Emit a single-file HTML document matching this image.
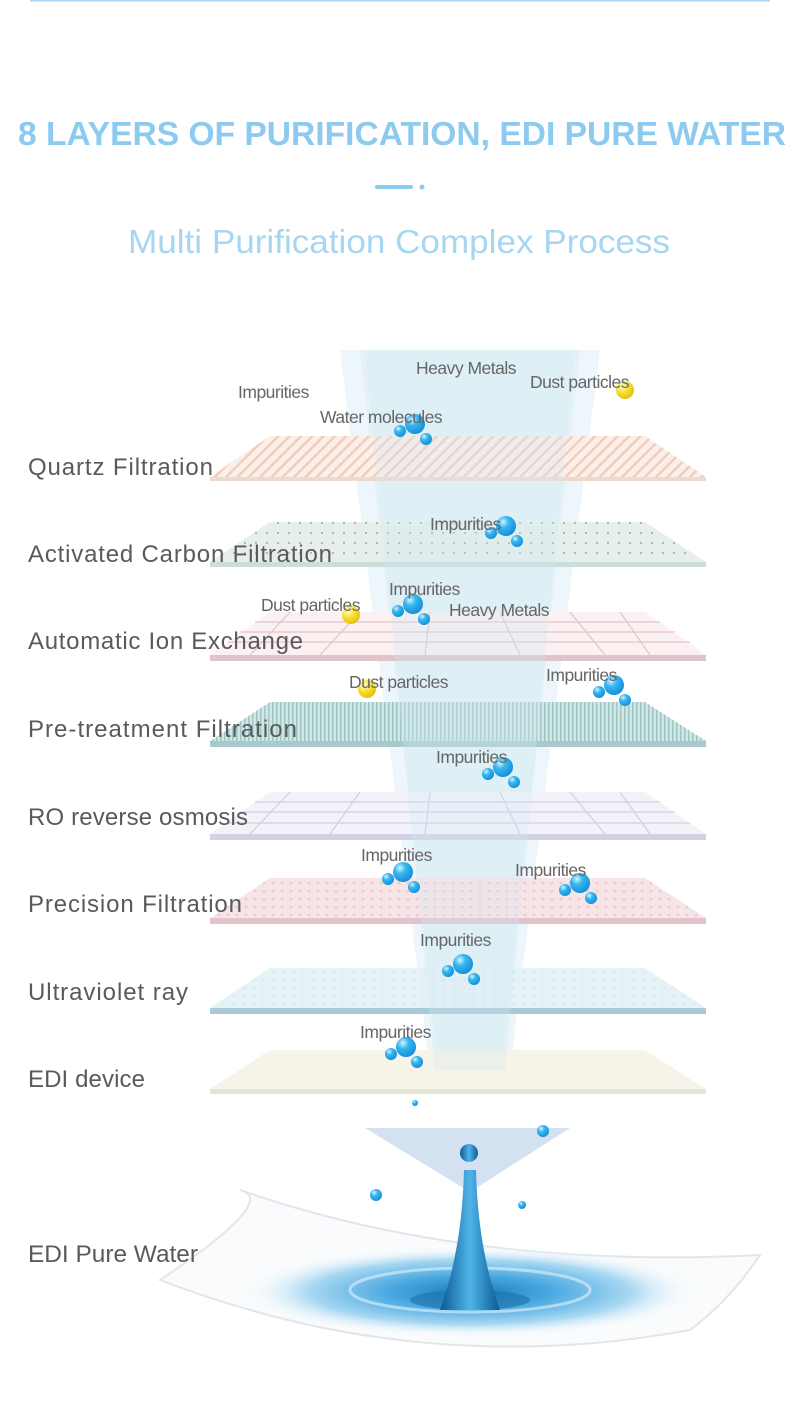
<!DOCTYPE html>
<html><head><meta charset="utf-8"><style>
html,body{margin:0;padding:0;background:#fff}
svg{display:block}
text{font-family:"Liberation Sans",sans-serif}
</style></head><body>
<svg width="800" height="1420" viewBox="0 0 800 1420" xmlns="http://www.w3.org/2000/svg">
<defs>
<pattern id="stripe" width="8" height="8" patternUnits="userSpaceOnUse" patternTransform="rotate(45)"><rect width="8" height="8" fill="#fbefe9"/><rect width="2.5" height="8" fill="#f2cdbd"/></pattern>
<pattern id="dots" width="11" height="10" patternUnits="userSpaceOnUse"><rect width="11" height="10" fill="#e6efed"/><circle cx="3" cy="3" r="1" fill="#8fb290"/></pattern>
<pattern id="fine" width="4" height="4" patternUnits="userSpaceOnUse"><rect width="4" height="4" fill="#d3e6e5"/><rect width="1.5" height="4" fill="#9cc7c4"/></pattern>
<pattern id="pdots" width="9" height="8" patternUnits="userSpaceOnUse"><rect width="9" height="8" fill="#f7e4e6"/><circle cx="3" cy="3" r="1.4" fill="#efc8cf"/></pattern>
<pattern id="uv" width="10" height="8" patternUnits="userSpaceOnUse"><rect width="10" height="8" fill="#e6f3f6"/><circle cx="4" cy="4" r="1.5" fill="#d6ebf0"/></pattern>
<radialGradient id="bub" cx="0.35" cy="0.3" r="0.7"><stop offset="0" stop-color="#d8f4ff"/><stop offset="0.4" stop-color="#35b8f2"/><stop offset="1" stop-color="#1a8fd8"/></radialGradient>
<radialGradient id="yel" cx="0.35" cy="0.3" r="0.7"><stop offset="0" stop-color="#fffbd0"/><stop offset="0.5" stop-color="#f8e030"/><stop offset="1" stop-color="#e8c010"/></radialGradient>
<radialGradient id="pool" cx="0.5" cy="0.5" r="0.5"><stop offset="0" stop-color="#1a78b8"/><stop offset="0.35" stop-color="#4aa8e0"/><stop offset="0.7" stop-color="#a8d8f2"/><stop offset="1" stop-color="#ffffff" stop-opacity="0"/></radialGradient>
<linearGradient id="drop" x1="0" x2="1"><stop offset="0" stop-color="#0b5a94"/><stop offset="0.5" stop-color="#4fb3e8"/><stop offset="1" stop-color="#0b5a94"/></linearGradient>
<g id="b3"><circle cx="0" cy="0" r="10" fill="url(#bub)"/><circle cx="-15" cy="7" r="6" fill="url(#bub)"/><circle cx="11" cy="15" r="6" fill="url(#bub)"/></g>
</defs>
<line x1="30" y1="0.5" x2="770" y2="0.5" stroke="#a9d6f2" stroke-width="2"/>
<text x="18" y="145" textLength="768" lengthAdjust="spacingAndGlyphs" font-size="33" font-weight="bold" fill="#8ccaf0">8 LAYERS OF PURIFICATION, EDI PURE WATER</text>
<rect x="375" y="185" width="38" height="4" rx="2" fill="#8ccaf0"/><circle cx="422" cy="187" r="2.5" fill="#8ccaf0"/>
<text x="128" y="253" textLength="542" lengthAdjust="spacingAndGlyphs" font-size="33" fill="#a6d6f2">Multi Purification Complex Process</text>

<polygon points="340,350 600,350 510,1070 430,1070" fill="#e8f4f9" opacity="0.8"/>
<polygon points="360,350 580,350 500,1080 440,1080" fill="#d8edf6" opacity="0.4"/>

<polygon points="270,436 645,436 706,477 210,477" fill="url(#stripe)"/><rect x="210" y="477" width="496" height="4" fill="#eadad0"/>
<polygon points="270,522 645,522 706,562 210,562" fill="url(#dots)"/><rect x="210" y="562" width="496" height="5" fill="#cbdeda"/>
<polygon points="270,612 645,612 706,655 210,655" fill="#fbf1f2"/>
<g stroke="#e3c4c9" stroke-width="1.2"><line x1="255" y1="622" x2="660" y2="622"/><line x1="240" y1="632" x2="675" y2="632"/><line x1="228" y1="642" x2="690" y2="642"/><line x1="290" y1="612" x2="250" y2="655"/><line x1="360" y1="612" x2="320" y2="655"/><line x1="430" y1="612" x2="425" y2="655"/><line x1="500" y1="612" x2="520" y2="655"/><line x1="570" y1="612" x2="605" y2="655"/><line x1="620" y1="612" x2="650" y2="655"/></g>
<rect x="210" y="655" width="496" height="6" fill="#dfc4ca"/>
<polygon points="270,702 645,702 706,741 210,741" fill="url(#fine)"/><rect x="210" y="741" width="496" height="6" fill="#a9c9cc"/>
<polygon points="270,792 645,792 706,834 210,834" fill="#f3f2f9"/>
<g stroke="#cfcfe6" stroke-width="1.2"><line x1="255" y1="802" x2="660" y2="802"/><line x1="240" y1="812" x2="675" y2="812"/><line x1="228" y1="823" x2="690" y2="823"/><line x1="290" y1="792" x2="250" y2="834"/><line x1="360" y1="792" x2="330" y2="834"/><line x1="430" y1="792" x2="425" y2="834"/><line x1="500" y1="792" x2="520" y2="834"/><line x1="570" y1="792" x2="605" y2="834"/><line x1="620" y1="792" x2="650" y2="834"/></g>
<rect x="210" y="834" width="496" height="6" fill="#d2d2e6"/>
<polygon points="270,878 645,878 706,918 210,918" fill="url(#pdots)"/><rect x="210" y="918" width="496" height="6" fill="#e2c3cc"/>
<polygon points="270,968 645,968 706,1008 210,1008" fill="url(#uv)"/><rect x="210" y="1008" width="496" height="6" fill="#a9cad6"/>
<polygon points="270,1050 645,1050 706,1089 210,1089" fill="#f6f4e9"/><rect x="210" y="1089" width="496" height="5" fill="#e2e6d2"/>

<polygon points="365,350 575,350 505,1070 435,1070" fill="#cfe8f3" opacity="0.3"/>
<polygon points="365,1128 570,1128 470,1192" fill="#c8daee" opacity="0.8"/>

<g font-size="24" fill="#5a5a5a" lengthAdjust="spacingAndGlyphs">
<text x="28" y="475" textLength="185">Quartz Filtration</text>
<text x="28" y="562" textLength="304">Activated Carbon Filtration</text>
<text x="28" y="649" textLength="275">Automatic Ion Exchange</text>
<text x="28" y="737" textLength="269">Pre-treatment Filtration</text>
<text x="28" y="825" textLength="220">RO reverse osmosis</text>
<text x="28" y="912" textLength="214">Precision Filtration</text>
<text x="28" y="1000" textLength="160">Ultraviolet ray</text>
<text x="28" y="1087" textLength="117">EDI device</text>
</g>

<path d="M160,1280 Q280,1200 240,1190 Q470,1270 760,1255 Q730,1300 690,1330 Q420,1380 160,1280Z" fill="#f9fbfc" stroke="#e2e6ea" stroke-width="2"/>
<ellipse cx="470" cy="1292" rx="230" ry="46" fill="url(#pool)"/>
<ellipse cx="470" cy="1290" rx="120" ry="22" fill="none" stroke="#cfeaf8" stroke-width="3" opacity="0.7"/>
<ellipse cx="470" cy="1300" rx="60" ry="10" fill="#1a6fa8" opacity="0.6"/>
<path d="M440,1310 Q462,1250 464,1170 L476,1170 Q478,1250 500,1310Z" fill="url(#drop)"/>
<circle cx="469" cy="1153" r="9" fill="url(#drop)"/>
<text x="28" y="1262" font-size="24" fill="#5a5a5a" textLength="170" lengthAdjust="spacingAndGlyphs">EDI Pure Water</text>

<use href="#b3" x="415" y="424"/>
<use href="#b3" x="506" y="526"/>
<use href="#b3" x="413" y="604"/>
<use href="#b3" x="614" y="685"/>
<use href="#b3" x="503" y="767"/>
<use href="#b3" x="403" y="872"/>
<use href="#b3" x="580" y="883"/>
<use href="#b3" x="463" y="964"/>
<use href="#b3" x="406" y="1047"/>
<circle cx="625" cy="390" r="9" fill="url(#yel)"/>
<circle cx="351" cy="615" r="9" fill="url(#yel)"/>
<circle cx="367" cy="689" r="9" fill="url(#yel)"/>
<circle cx="376" cy="1195" r="6" fill="url(#bub)"/><circle cx="543" cy="1131" r="6" fill="url(#bub)"/><circle cx="522" cy="1205" r="4" fill="url(#bub)"/><circle cx="415" cy="1103" r="3" fill="url(#bub)"/>

<g font-size="17.5" fill="#666" letter-spacing="-0.5">
<text x="238" y="398">Impurities</text>
<text x="416" y="374">Heavy Metals</text>
<text x="530" y="388">Dust particles</text>
<text x="320" y="423">Water molecules</text>
<text x="430" y="530">Impurities</text>
<text x="389" y="595">Impurities</text>
<text x="261" y="611">Dust particles</text>
<text x="449" y="616">Heavy Metals</text>
<text x="349" y="688">Dust particles</text>
<text x="546" y="681">Impurities</text>
<text x="436" y="763">Impurities</text>
<text x="361" y="861">Impurities</text>
<text x="515" y="876">Impurities</text>
<text x="420" y="946">Impurities</text>
<text x="360" y="1038">Impurities</text>
</g>
</svg>
</body></html>
